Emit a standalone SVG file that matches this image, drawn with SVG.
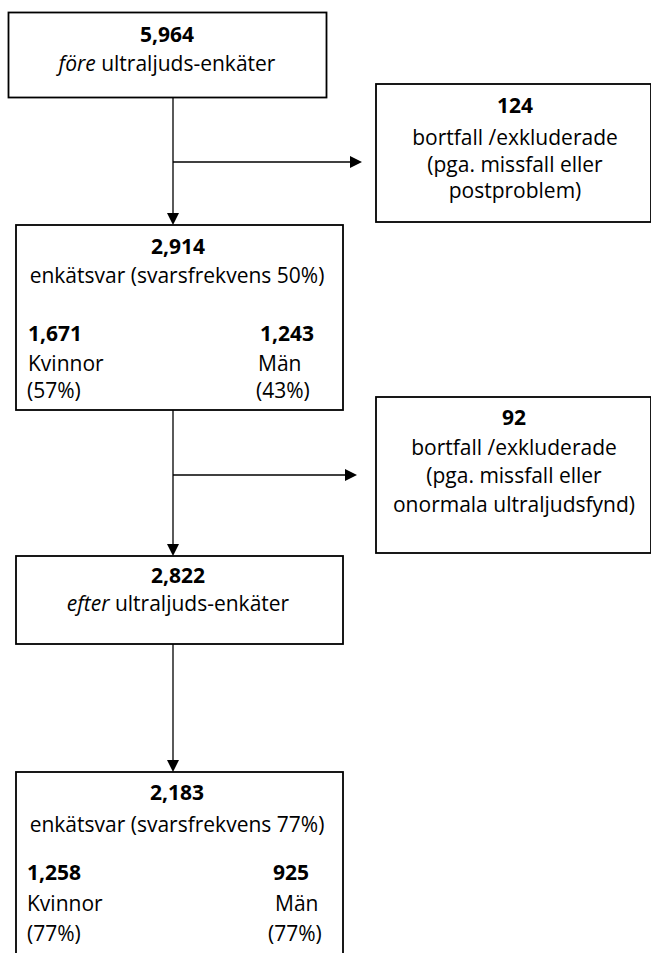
<svg xmlns="http://www.w3.org/2000/svg" width="651" height="953" viewBox="0 0 651 953">
<style>
  .box { fill: #ffffff; stroke: #000000; stroke-width: 1.8; }
  .t { font-family: "Open Sans", "Liberation Sans", sans-serif; font-size: 21px; fill: #000000; }
  .b { font-weight: bold; }
  .c { text-anchor: middle; }
  .conn { fill: none; stroke: #000000; stroke-width: 1.3; }
</style>
<defs>
  <marker id="arr" viewBox="0 0 12 12" markerWidth="12" markerHeight="12" markerUnits="userSpaceOnUse" refX="1" refY="6" orient="auto">
    <path d="M0,0 L12,6 L0,12 z" fill="#000000"/>
  </marker>
</defs>
<rect width="651" height="953" fill="#ffffff"/>

<g id="connectors">
  <path class="conn" d="M173,98 V214" marker-end="url(#arr)"/>
  <path class="conn" d="M173,162 H351" marker-end="url(#arr)"/>
  <path class="conn" d="M173,410 V545" marker-end="url(#arr)"/>
  <path class="conn" d="M173,475 H346" marker-end="url(#arr)"/>
  <path class="conn" d="M173,644 V761" marker-end="url(#arr)"/>
</g>

<g id="node-fore">
  <rect class="box" x="8.5" y="12.5" width="318" height="85"/>
  <text class="t b c" x="167" y="42">5,964</text>
  <text class="t c" x="167" y="71"><tspan font-style="italic">före</tspan> ultraljuds-enkäter</text>
</g>

<g id="node-bortfall1">
  <rect class="box" x="376" y="84" width="275" height="138"/>
  <text class="t b c" x="515" y="113">124</text>
  <text class="t c" x="515" y="145">bortfall /exkluderade</text>
  <text class="t c" x="515" y="172">(pga. missfall eller</text>
  <text class="t c" x="515" y="198">postproblem)</text>
</g>

<g id="node-svar1">
  <rect class="box" x="16" y="225" width="327" height="185"/>
  <text class="t b c" x="178" y="254">2,914</text>
  <text class="t c" x="177" y="283">enkätsvar (svarsfrekvens 50%)</text>
  <text class="t b" x="28" y="341">1,671</text>
  <text class="t" x="28" y="371">Kvinnor</text>
  <text class="t" x="27" y="398">(57%)</text>
  <text class="t b" x="260" y="341">1,243</text>
  <text class="t" x="258" y="371">Män</text>
  <text class="t" x="256" y="398">(43%)</text>
</g>

<g id="node-bortfall2">
  <rect class="box" x="376" y="397" width="275" height="156"/>
  <text class="t b c" x="514" y="425">92</text>
  <text class="t c" x="514" y="455">bortfall /exkluderade</text>
  <text class="t c" x="514" y="483">(pga. missfall eller</text>
  <text class="t c" x="514" y="512">onormala ultraljudsfynd)</text>
</g>

<g id="node-efter">
  <rect class="box" x="16" y="556" width="327" height="88"/>
  <text class="t b c" x="178" y="583">2,822</text>
  <text class="t c" x="178" y="611"><tspan font-style="italic">efter</tspan> ultraljuds-enkäter</text>
</g>

<g id="node-svar2">
  <rect class="box" x="16" y="772" width="327" height="200"/>
  <text class="t b c" x="177" y="800">2,183</text>
  <text class="t c" x="177" y="832">enkätsvar (svarsfrekvens 77%)</text>
  <text class="t b" x="27" y="880">1,258</text>
  <text class="t" x="27" y="911">Kvinnor</text>
  <text class="t" x="27" y="941">(77%)</text>
  <text class="t b" x="273" y="880">925</text>
  <text class="t" x="275" y="911">Män</text>
  <text class="t" x="268" y="941">(77%)</text>
</g>
</svg>
